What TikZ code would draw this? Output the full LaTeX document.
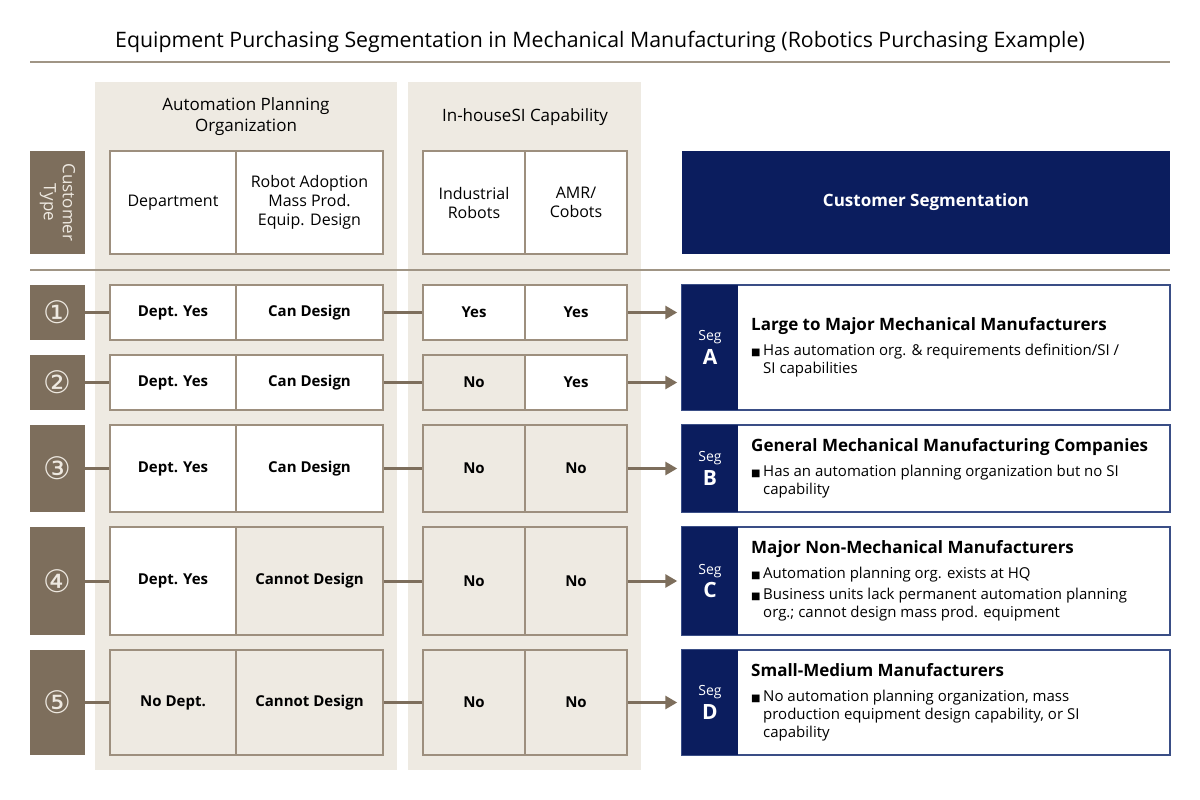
\documentclass[tikz,border=0pt]{standalone}
\usepackage{fontspec}
\setmainfont{Open Sans}
\newfontfamily\symfont{DejaVu Sans}
\usetikzlibrary{arrows.meta}
\definecolor{bgc}{HTML}{EEEAE2}
\definecolor{brn}{HTML}{7D6E5C}
\definecolor{bord}{HTML}{9D8F7E}
\definecolor{navy}{HTML}{0B1D5E}
\definecolor{segb}{HTML}{3A4E86}
\definecolor{rulec}{HTML}{A09585}
\definecolor{lightt}{HTML}{EEE9E1}
\newcommand\bul{\makebox[12pt][l]{\symfont\fontsize{10}{10}\selectfont\raisebox{0.5pt}{■}}}
\newcommand\ind{\hspace*{12pt}}
\begin{document}
\begin{tikzpicture}[x=1pt,y=-1pt,
  cellbase/.style={draw=bord, line width=1.5pt, inner sep=0pt, align=center, text=black},
  cell/.style={cellbase, fill=white, font=\fontsize{15}{18}\selectfont\bfseries},
  bcell/.style={cellbase, fill=bgc, font=\fontsize{15}{18}\selectfont\bfseries},
  hcell/.style={cellbase, fill=white, font=\fontsize{16}{19}\selectfont},
  numbox/.style={fill=brn, text=lightt, minimum width=55pt, inner sep=0pt, font=\symfont\fontsize{31}{31}\selectfont},
  conn/.style={draw=brn, line width=3pt},
  arr/.style={conn, -{Triangle[length=12pt,width=13pt]}, shorten >=4pt},
  segbox/.style={draw=segb, line width=1.5pt, fill=white, minimum width=488pt, inner sep=0pt},
  seglab/.style={fill=navy, text=white, minimum width=56pt, inner sep=0pt, align=center},
  segtxt/.style={anchor=west, align=left, inner sep=0pt, font=\fontsize{15}{18}\selectfont},
  colbg/.style={fill=bgc, draw=none},
  rulel/.style={draw=rulec, line width=1.5pt}
]
\useasboundingbox (0,0) rectangle (1200,800);
\fill[white] (0,0) rectangle (1200,800);

% title
\node[font=\fontsize{21.3}{25}\selectfont] (title) at (600,42) {Equipment Purchasing Segmentation in Mechanical Manufacturing (Robotics Purchasing Example)};
\coordinate (r1l) at (30,62);
\coordinate (r1r) at (1170,62);
\draw[rulel] (r1l) -- (r1r);

% column backgrounds
\fill[colbg] (95,82) rectangle (397,770);
\fill[colbg] (408,82) rectangle (641,770);

\node[font=\fontsize{17}{21}\selectfont, align=center] (h1) at (246,117) {Automation Planning\\Organization};
\node[font=\fontsize{17}{21}\selectfont] (h2) at (525,117) {In-houseSI Capability};

% header row
\node[fill=brn, minimum width=55pt, minimum height=103pt, inner sep=0pt] (ct) at (57.5,202.5) {};
\node[rotate=-90, text=lightt, align=center, font=\fontsize{17}{19}\selectfont] (ctt) at (57.5,202.5) {Customer\\Type};
\node[hcell, minimum width=126pt, minimum height=103pt] (ha) at (173,202.5) {Department};
\node[hcell, minimum width=147pt, minimum height=103pt] (hb) at (309.5,202.5) {Robot Adoption\\Mass Prod.\\Equip. Design};
\node[hcell, minimum width=102pt, minimum height=103pt] (hc) at (474,202.5) {Industrial\\Robots};
\node[hcell, minimum width=102pt, minimum height=103pt] (hd) at (576,202.5) {AMR/\\Cobots};
\node[fill=navy, text=white, minimum width=488pt, minimum height=103pt, inner sep=0pt, font=\fontsize{17}{20}\selectfont\bfseries] (cs) at (926,202.5) {Customer Segmentation};

\coordinate (r2l) at (30,270);
\coordinate (r2r) at (1170,270);
\draw[rulel] (r2l) -- (r2r);

% segment boxes
\node[segbox, minimum height=125pt] (segA) at (926,347.5) {};
\node[seglab, minimum height=125pt] (sA) at (710,347.5) {{\fontsize{14}{16}\selectfont Seg}\\[4pt]{\bfseries\fontsize{21}{22}\selectfont A}};
\node[segtxt] (tA) at (751,347.5) {{\bfseries\fontsize{17}{20}\selectfont Large to Major Mechanical Manufacturers}\\[7pt]\bul Has automation org. \& requirements definition/SI /\\\ind SI capabilities};

\node[segbox, minimum height=87pt] (segB) at (926,468.5) {};
\node[seglab, minimum height=87pt] (sB) at (710,468.5) {{\fontsize{14}{16}\selectfont Seg}\\[4pt]{\bfseries\fontsize{21}{22}\selectfont B}};
\node[segtxt] (tB) at (751,468.5) {{\bfseries\fontsize{17}{20}\selectfont General Mechanical Manufacturing Companies}\\[7pt]\bul Has an automation planning organization but no SI\\\ind capability};

\node[segbox, minimum height=108pt] (segC) at (926,581) {};
\node[seglab, minimum height=108pt] (sC) at (710,581) {{\fontsize{14}{16}\selectfont Seg}\\[4pt]{\bfseries\fontsize{21}{22}\selectfont C}};
\node[segtxt] (tC) at (751,581) {{\bfseries\fontsize{17}{20}\selectfont Major Non-Mechanical Manufacturers}\\[7pt]\bul Automation planning org. exists at HQ\\[3pt]\bul Business units lack permanent automation planning\\\ind org.; cannot design mass prod. equipment};

\node[segbox, minimum height=105pt] (segD) at (926,702.5) {};
\node[seglab, minimum height=105pt] (sD) at (710,702.5) {{\fontsize{14}{16}\selectfont Seg}\\[4pt]{\bfseries\fontsize{21}{22}\selectfont D}};
\node[segtxt] (tD) at (751,702.5) {{\bfseries\fontsize{17}{20}\selectfont Small-Medium Manufacturers}\\[7pt]\bul No automation planning organization, mass\\\ind production equipment design capability, or SI\\\ind capability};

% row 1
\node[numbox, minimum height=55pt] (n1) at (57.5,312.5) {①};
\node[cell, minimum width=126pt, minimum height=55pt] (a1) at (173,312.5) {Dept. Yes};
\node[cell, minimum width=147pt, minimum height=55pt] (b1) at (309.5,312.5) {Can Design};
\node[cell, minimum width=102pt, minimum height=55pt] (c1) at (474,312.5) {Yes};
\node[cell, minimum width=102pt, minimum height=55pt] (d1) at (576,312.5) {Yes};
% row 2
\node[numbox, minimum height=55pt] (n2) at (57.5,382.5) {②};
\node[cell, minimum width=126pt, minimum height=55pt] (a2) at (173,382.5) {Dept. Yes};
\node[cell, minimum width=147pt, minimum height=55pt] (b2) at (309.5,382.5) {Can Design};
\node[bcell, minimum width=102pt, minimum height=55pt] (c2) at (474,382.5) {No};
\node[cell, minimum width=102pt, minimum height=55pt] (d2) at (576,382.5) {Yes};
% row 3
\node[numbox, minimum height=87pt] (n3) at (57.5,468.5) {③};
\node[cell, minimum width=126pt, minimum height=87pt] (a3) at (173,468.5) {Dept. Yes};
\node[cell, minimum width=147pt, minimum height=87pt] (b3) at (309.5,468.5) {Can Design};
\node[bcell, minimum width=102pt, minimum height=87pt] (c3) at (474,468.5) {No};
\node[bcell, minimum width=102pt, minimum height=87pt] (d3) at (576,468.5) {No};
% row 4
\node[numbox, minimum height=108pt] (n4) at (57.5,581) {④};
\node[cell, minimum width=126pt, minimum height=108pt] (a4) at (173,581) {Dept. Yes};
\node[bcell, minimum width=147pt, minimum height=108pt] (b4) at (309.5,581) {Cannot Design};
\node[bcell, minimum width=102pt, minimum height=108pt] (c4) at (474,581) {No};
\node[bcell, minimum width=102pt, minimum height=108pt] (d4) at (576,581) {No};
% row 5
\node[numbox, minimum height=105pt] (n5) at (57.5,702.5) {⑤};
\node[bcell, minimum width=126pt, minimum height=105pt] (a5) at (173,702.5) {No Dept.};
\node[bcell, minimum width=147pt, minimum height=105pt] (b5) at (309.5,702.5) {Cannot Design};
\node[bcell, minimum width=102pt, minimum height=105pt] (c5) at (474,702.5) {No};
\node[bcell, minimum width=102pt, minimum height=105pt] (d5) at (576,702.5) {No};

% connectors
\foreach \i/\s in {1/segA,2/segA,3/segB,4/segC,5/segD}{
  \draw[conn] (n\i.east) -- (a\i.west);
  \draw[conn] (b\i.east) -- (c\i.west);
  \draw[arr] (d\i.east) -- (d\i.east -| \s.west);
}
\end{tikzpicture}
\end{document}
